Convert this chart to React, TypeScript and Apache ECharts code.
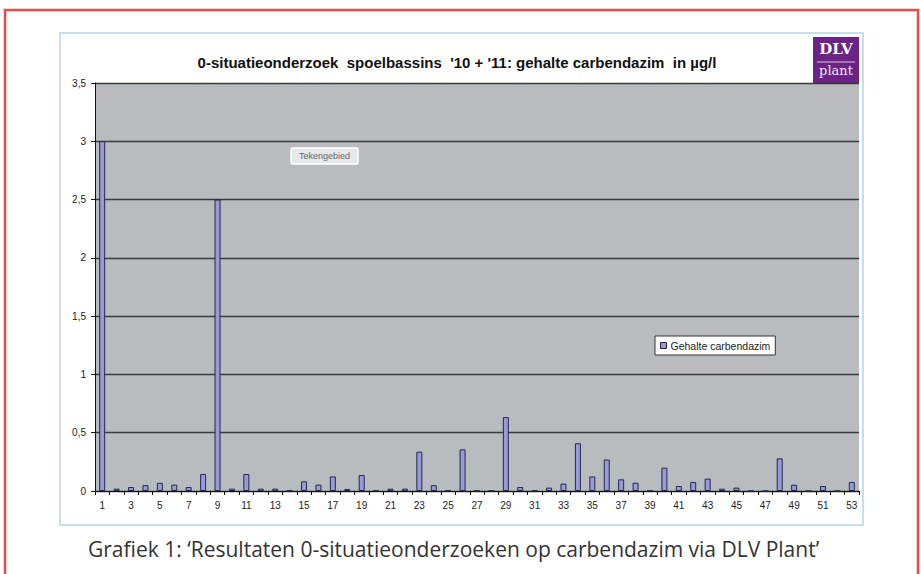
import React, { useEffect, useRef } from "react";
import * as echarts from "echarts";

const categories: string[] = Array.from({ length: 53 }, (_, i) => String(i + 1));
const carbendazim: number[] = [
  3.0, 0.02, 0.034, 0.05, 0.07, 0.055, 0.034, 0.146, 2.5, 0.02,
  0.146, 0.02, 0.02, 0.005, 0.083, 0.055, 0.125, 0.017, 0.137, 0.003,
  0.02, 0.02, 0.337, 0.05, 0.005, 0.357, 0.003, 0.003, 0.634, 0.034,
  0.003, 0.029, 0.063, 0.41, 0.125, 0.27, 0.1, 0.071, 0.003, 0.2,
  0.043, 0.077, 0.106, 0.02, 0.029, 0, 0, 0.28, 0.054, 0,
  0.043, 0, 0.077,
];
const seriesName = "Gehalte carbendazim";
const chartTitle = "0-situatieonderzoek  spoelbassins  '10 + '11: gehalte carbendazim  in µg/l";
const caption = "Grafiek 1: \u2018Resultaten 0-situatieonderzoeken op carbendazim via DLV Plant\u2019";

export default function App() {
  const ref = useRef<HTMLDivElement>(null);
  useEffect(() => {
    if (!ref.current) return;
    const chart = echarts.init(ref.current, null, { renderer: "svg" });
    chart.setOption({
      animation: false,
      backgroundColor: "#ffffff",
      title: {
        text: chartTitle,
        left: 452,
        top: 50,
        textAlign: "center",
        textStyle: { fontFamily: "Liberation Sans, Arial", fontWeight: "bold", fontSize: 15, color: "#111" },
      },
      legend: {
        left: 655,
        top: 336,
        data: [seriesName],
        icon: "rect",
        itemWidth: 6,
        itemHeight: 6,
        itemGap: 4,
        padding: [4, 5, 4, 5],
        backgroundColor: "#ffffff",
        borderColor: "#333333",
        borderWidth: 1,
        textStyle: { fontFamily: "Liberation Sans, Arial", fontSize: 10.5, color: "#222", padding: [0, 0, 0, -1] },
        itemStyle: { borderColor: "#222244", borderWidth: 1 },
      },
      grid: { left: 95, top: 83, right: 62, bottom: 83, show: true, backgroundColor: "#b9bcbe", borderWidth: 0 },
      xAxis: {
        type: "category",
        data: categories,
        boundaryGap: true,
        axisLine: { lineStyle: { color: "#111", width: 1 } },
        axisTick: { show: true, alignWithLabel: false, length: 4, lineStyle: { color: "#111" }, interval: 0 },
        axisLabel: { interval: 1, color: "#222", fontSize: 10, fontFamily: "Liberation Sans, Arial", margin: 9 },
      },
      yAxis: {
        type: "value",
        min: 0,
        max: 3.5,
        interval: 0.5,
        axisLine: { show: true, lineStyle: { color: "#111", width: 1 } },
        axisTick: { show: true, length: 4, lineStyle: { color: "#111" } },
        axisLabel: {
          color: "#222",
          fontSize: 10,
          fontFamily: "Liberation Sans, Arial",
          margin: 9,
          formatter: (v: number) => String(v).replace(".", ","),
        },
        splitLine: { show: true, lineStyle: { color: "#3a3a3a", width: 1.3 } },
      },
      series: [
        {
          name: seriesName,
          type: "bar",
          data: carbendazim,
          barWidth: 6,
          itemStyle: { color: "#9a9ad6", borderColor: "#26264f", borderWidth: 1 },
        },
      ],
      graphic: [
        { type: "rect", shape: { x: 5, y: 10, width: 913, height: 600 }, style: { fill: "none", stroke: "#ec4a4a", lineWidth: 2.5 }, silent: true },
        { type: "rect", shape: { x: 60, y: 33, width: 803, height: 492 }, style: { fill: "none", stroke: "#c4e0ea", lineWidth: 2 }, silent: true },
        { type: "rect", shape: { x: 813, y: 37, width: 46, height: 46 }, style: { fill: "#6b2386" } },
        { type: "text", x: 836, y: 41, style: { text: "DLV", fill: "#ffffff", font: "bold 15px 'DejaVu Serif', serif", textAlign: "center" } },
        { type: "line", shape: { x1: 817, y1: 62, x2: 855, y2: 62 }, style: { stroke: "#d8c4e0", lineWidth: 1 } },
        { type: "text", x: 836, y: 64, style: { text: "plant", fill: "#f0e6f4", font: "13px 'DejaVu Serif', serif", textAlign: "center" } },
        {
          type: "group",
          x: 291,
          y: 148,
          children: [
            { type: "rect", shape: { x: 0, y: 0, width: 67, height: 16, r: 2 }, style: { fill: "#e6e8ea", stroke: "#ffffff", lineWidth: 1.5 } },
            { type: "text", x: 33.5, y: 3.5, style: { text: "Tekengebied", fill: "#666", font: "9px 'Liberation Sans', Arial", textAlign: "center" } },
          ],
        },
        { type: "text", x: 88, y: 538, style: { text: caption, fill: "#333", font: "21px 'Open Sans', sans-serif" } },
      ],
    });
    return () => chart.dispose();
  }, []);
  return (
    <div style={{ position: "absolute", left: 0, top: 0, width: 921, height: 574 }}>
      <div ref={ref} style={{ width: 921, height: 574 }} />
    </div>
  );
}
